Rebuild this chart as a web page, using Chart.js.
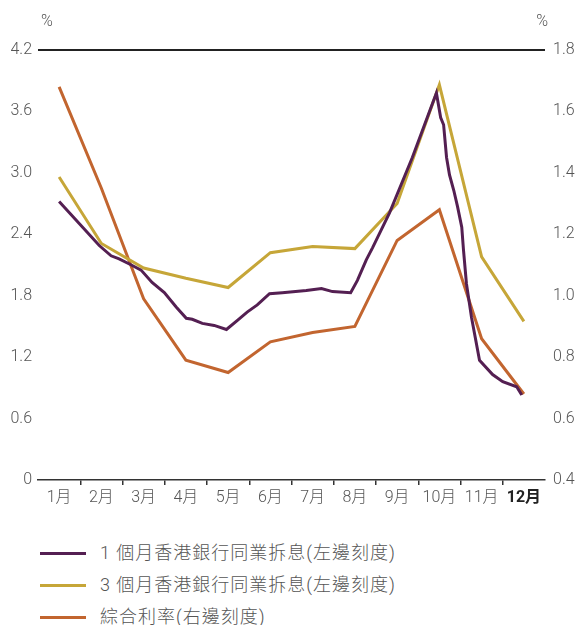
<!DOCTYPE html>
<html>
<head>
<meta charset="utf-8">
<script src="https://cdn.jsdelivr.net/npm/chart.js@4/dist/chart.umd.min.js"></script>
<style>
  body { margin: 0; background: #fff; }
  #wrap { position: relative; width: 579px; height: 625px; }
  #legend { position: absolute; left: 0; top: 537px; font-family: Roboto, "Noto Sans CJK TC", sans-serif; font-size: 18px; color: #555; font-weight: 300; }
  .row { position: relative; height: 32px; line-height: 32px; }
  .swatch { position: absolute; left: 40px; top: 15px; width: 46px; height: 3px; }
  .txt { position: absolute; left: 100px; top: 0; white-space: nowrap; letter-spacing: 1px; }
</style>
</head>
<body>
<div id="wrap">
  <canvas id="chart" width="579" height="525"></canvas>
  <div id="legend"></div>
</div>
<script>
// 月份
const months = ['1月','2月','3月','4月','5月','6月','7月','8月','9月','10月','11月','12月'];
const leftTicks = [0, 0.6, 1.2, 1.8, 2.4, 3.0, 3.6, 4.2];
const rightTicks = [0.4, 0.6, 0.8, 1.0, 1.2, 1.4, 1.6, 1.8];

// 1個月 HIBOR (左) - x = 月份位置
const hibor1mX = [1.00, 1.95, 2.23, 2.42, 2.71, 2.94, 3.20, 3.49, 3.77, 4.01, 4.15, 4.39, 4.67, 4.96, 5.22, 5.45, 5.69, 5.98, 6.28, 6.85, 7.21, 7.47, 7.90, 8.06, 8.27, 8.42, 8.82, 9.36, 9.93, 10.03, 10.10, 10.17, 10.24, 10.34, 10.43, 10.53, 10.57, 10.64, 10.76, 10.95, 11.26, 11.50, 11.83, 11.95];
const hibor1mY = [2.72, 2.29, 2.19, 2.16, 2.10, 2.05, 1.93, 1.83, 1.69, 1.58, 1.57, 1.53, 1.51, 1.47, 1.56, 1.64, 1.71, 1.82, 1.83, 1.85, 1.87, 1.84, 1.83, 1.95, 2.15, 2.27, 2.61, 3.15, 3.78, 3.54, 3.47, 3.15, 2.98, 2.83, 2.67, 2.47, 2.25, 1.92, 1.59, 1.17, 1.03, 0.96, 0.91, 0.83];

// 3個月 HIBOR (左)
const hibor3m = [2.96, 2.31, 2.07, 1.97, 1.88, 2.22, 2.28, 2.26, 2.70, 3.86, 2.18, 1.55];
// 綜合利率 (右)
const compositeRate = [1.68, 1.35, 0.99, 0.79, 0.75, 0.85, 0.88, 0.90, 1.18, 1.28, 0.86, 0.68];

const purple = '#541f52';
const gold = '#c6a638';
const orange = '#c2652f';
const fontFam = 'Roboto, "Noto Sans CJK TC", sans-serif';

const percentLabels = {
  id: 'percentLabels',
  afterDraw(chart) {
    const c = chart.ctx;
    c.save();
    c.font = '300 16px ' + fontFam;
    c.fillStyle = '#555';
    c.textBaseline = 'middle';
    c.textAlign = 'left';
    c.fillText('%', 41, 22);
    c.textAlign = 'right';
    c.fillText('%', 548, 22);
    c.restore();
  }
};

const chart = new Chart(document.getElementById('chart'), {
  type: 'line',
  data: {
    datasets: [
      {
        label: '1 個月香港銀行同業拆息(左邊刻度)',
        data: hibor1mX.map((x, i) => ({ x: x, y: hibor1mY[i] })),
        borderColor: purple,
        borderWidth: 3,
        pointRadius: 0,
        yAxisID: 'yL'
      },
      {
        label: '3 個月香港銀行同業拆息(左邊刻度)',
        data: hibor3m.map((v, i) => ({ x: i + 1, y: v })),
        borderColor: gold,
        borderWidth: 3,
        pointRadius: 0,
        yAxisID: 'yL'
      },
      {
        label: '綜合利率(右邊刻度)',
        data: compositeRate.map((v, i) => ({ x: i + 1, y: v })),
        borderColor: orange,
        borderWidth: 3,
        pointRadius: 0,
        yAxisID: 'yR'
      }
    ]
  },
  options: {
    responsive: false,
    animation: false,
    layout: { padding: { top: 50, left: 0, right: 0, bottom: 0 } },
    plugins: { legend: { display: false }, tooltip: { enabled: false } },
    elements: { line: { tension: 0 } },
    scales: {
      x: {
        type: 'linear',
        min: 0.5,
        max: 12.5,
        afterBuildTicks: s => { s.ticks = months.map((m, i) => ({ value: i + 1 })); },
        afterFit: s => { s.height = 45; },
        border: { color: '#333', width: 1.5 },
        grid: {
          offset: true,
          drawOnChartArea: false,
          tickLength: 5,
          lineWidth: 1.5,
          color: ctx => (ctx.index === undefined || ctx.index === 0) ? 'rgba(0,0,0,0)' : '#333'
        },
        ticks: {
          autoSkip: false,
          maxRotation: 0,
          padding: 3,
          callback: (v, i) => months[i],
          color: ctx => ctx.index === 11 ? '#222' : '#555',
          font: ctx => ({ family: fontFam, size: 16, weight: ctx.index === 11 ? 'bold' : '300' })
        }
      },
      yL: {
        position: 'left',
        min: 0,
        max: 4.2,
        afterBuildTicks: s => { s.ticks = leftTicks.map(v => ({ value: v })); },
        afterFit: s => { s.width = 38; },
        border: { display: false },
        grid: {
          drawTicks: false,
          lineWidth: 2,
          color: ctx => (ctx.tick && ctx.tick.value === 4.2) ? '#222' : 'rgba(0,0,0,0)'
        },
        ticks: {
          padding: 6,
          color: '#555',
          font: { family: fontFam, size: 16, weight: '300' },
          callback: v => v === 0 ? '0' : v.toFixed(1)
        }
      },
      yR: {
        position: 'right',
        min: 0.4,
        max: 1.8,
        afterBuildTicks: s => { s.ticks = rightTicks.map(v => ({ value: v })); },
        afterFit: s => { s.width = 34; },
        border: { display: false },
        grid: { display: false, drawTicks: false },
        ticks: {
          padding: 8,
          color: '#555',
          font: { family: fontFam, size: 16, weight: '300' },
          callback: v => v.toFixed(1)
        }
      }
    }
  },
  plugins: [percentLabels]
});

// 圖例
const legend = document.getElementById('legend');
chart.data.datasets.forEach(ds => {
  const row = document.createElement('div');
  row.className = 'row';
  row.innerHTML = '<span class="swatch" style="background:' + ds.borderColor + '"></span><span class="txt">' + ds.label + '</span>';
  legend.appendChild(row);
});
</script>
</body>
</html>
